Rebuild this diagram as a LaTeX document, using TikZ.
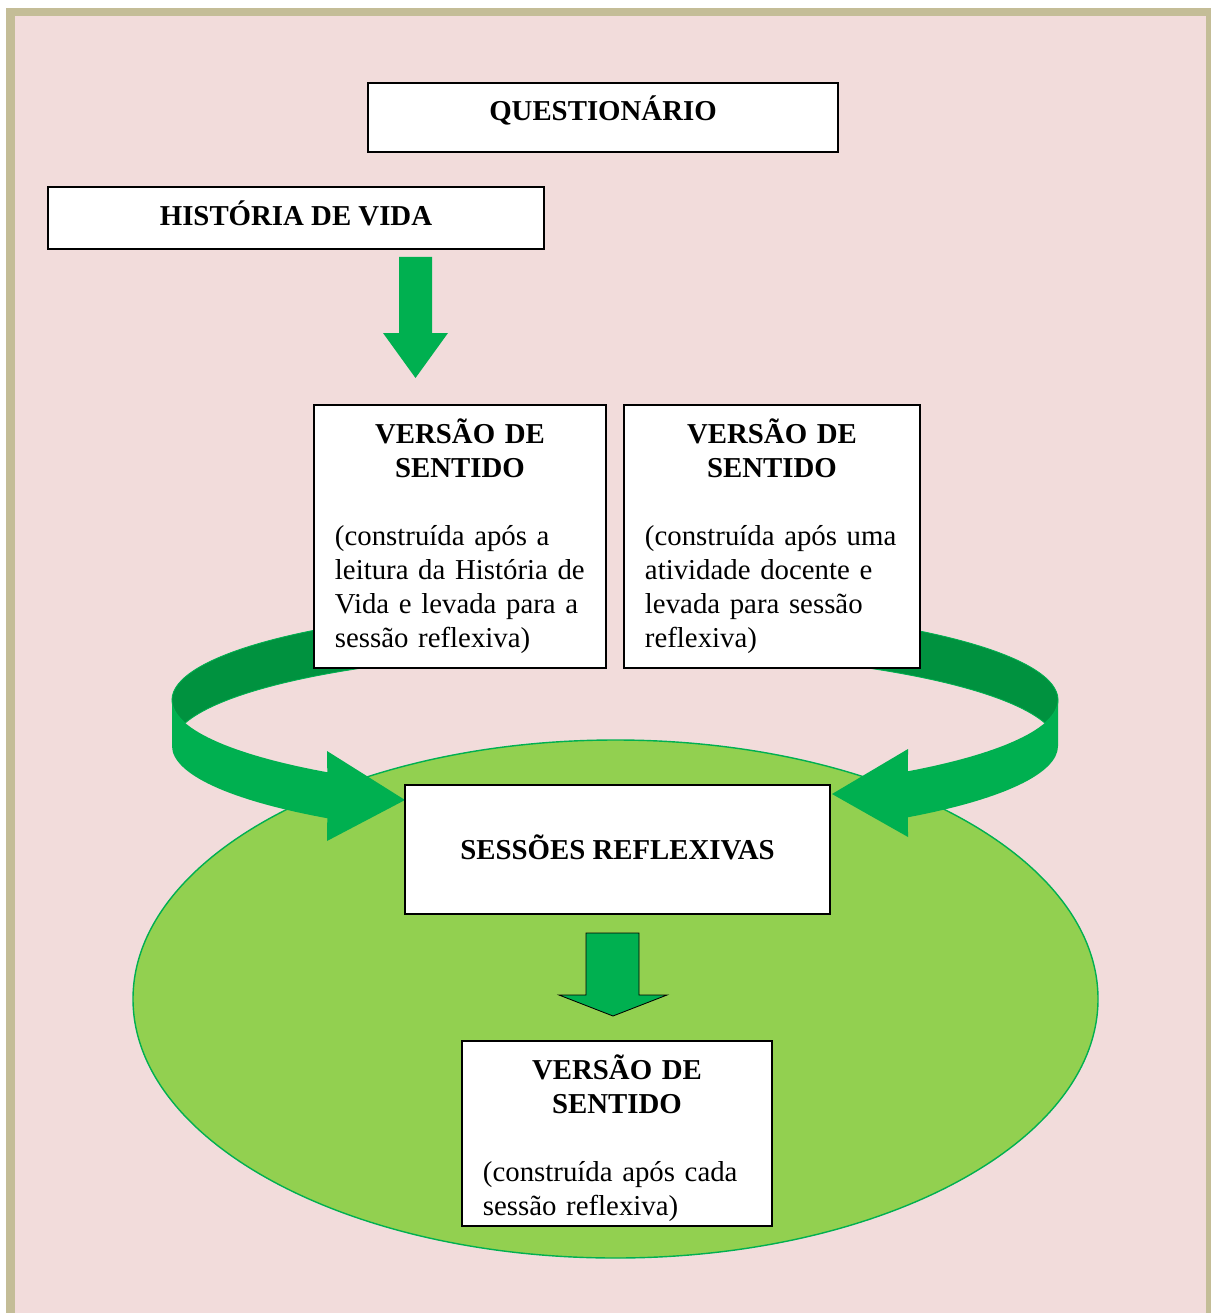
\documentclass[tikz,border=0pt]{standalone}
\usepackage{fontspec}
\setmainfont{Liberation Serif}
\usetikzlibrary{calc}
\definecolor{frame1}{RGB}{196,189,151}
\definecolor{rose1}{RGB}{242,220,219}
\definecolor{green1}{RGB}{0,176,80}
\definecolor{green2}{RGB}{0,146,63}
\definecolor{lime1}{RGB}{146,208,80}
\setlength{\parindent}{0pt}

\begin{document}
\begin{tikzpicture}[x=0.025cm, y=-0.025cm,
    every node/.style={font=\fontsize{20.5}{24.2}\selectfont},
    box/.style={draw=black, fill=white, line width=1.2pt, inner sep=0pt},
    title/.style={box, font=\fontsize{20.5}{24.2}\selectfont\bfseries, text height=0.5cm, text depth=0.15cm},
    version/.style={box, inner xsep=0.525cm, align=left, minimum height=6.575cm},
    blockarrow/.style={fill=green1},
    ringback/.style={fill=green2, draw=green1, line width=0.6pt},
    ringfront/.style={fill=green1},
    ring/.style={x radius=443, y radius=95},
    pool/.style={fill=lime1, draw=green1, line width=1pt}
]
    % \draw [help lines,step=50] (0,0) grid (1210,1313); % grid
    \useasboundingbox (0,0) rectangle (1210,1313);

    \fill[rose1] (10.5,12) rectangle (1210,1330);
    \draw[frame1, line width=0.21cm] (10.5,12) rectangle (1210,1330);

    \draw[pool] (615.5,999) ellipse [x radius=482.5, y radius=259];

    % ribbon, back side
    \filldraw[ringback] ([shift={(615,700)}]241:443 and 95) arc[ring, start angle=241, end angle=166]
        -- ([shift={(615,746)}]194:443 and 95) arc[ring, start angle=194, end angle=241] -- cycle;
    \filldraw[ringback] ([shift={(615,700)}]299:443 and 95) arc[ring, start angle=299, end angle=374]
        -- ([shift={(615,746)}]346:443 and 95) arc[ring, start angle=346, end angle=299] -- cycle;

    % ribbon, front side with heads
    \fill[ringfront] ([shift={(615,700)}]180:443 and 95) arc[ring, start angle=180, end angle=130.5]
        -- (327,751) -- (405,800) -- (327,841)
        -- ([shift={(615,746)}]130.5:443 and 95) arc[ring, start angle=130.5, end angle=180] -- cycle;
    \fill[ringfront] ([shift={(615,700)}]0:443 and 95) arc[ring, start angle=0, end angle=48.6]
        -- (908,749) -- (832,794) -- (908,837)
        -- ([shift={(615,746)}]48.6:443 and 95) arc[ring, start angle=48.6, end angle=0] -- cycle;

    \node[title, minimum width=11.75cm, minimum height=1.725cm, text depth=0.35cm, name=quest] at(603,117.5) {QUESTIONÁRIO};
    \node[title, minimum width=12.4cm, minimum height=1.55cm, name=hist] at(296,218) {HISTÓRIA DE VIDA};

    \node[version, text width=6.25cm, minimum width=7.3cm, name=vsA] at(460,536.5)
        {{\centering\bfseries VERSÃO DE\\SENTIDO\par}\vspace{\baselineskip}(construída após a\\leitura da História de\\Vida e levada para a\\sessão reflexiva)};
    \node[version, text width=6.35cm, minimum width=7.4cm, name=vsB] at(772,536.5)
        {{\centering\bfseries VERSÃO DE\\SENTIDO\par}\vspace{\baselineskip}(construída após uma\\atividade docente e\\levada para sessão\\reflexiva)};

    \node[title, minimum width=10.625cm, minimum height=3.225cm, text depth=0.02cm, name=sess] at(617.5,849.5) {SESSÕES REFLEXIVAS};

    \node[version, text width=6.7cm, minimum width=7.75cm, minimum height=4.625cm, name=vsC] at(617,1133.5)
        {{\centering\bfseries\rule{0pt}{0.87cm}VERSÃO DE\\SENTIDO\par}\vspace{\baselineskip}(construída após cada\\sessão reflexiva)};

    \fill[blockarrow] (399,257) -- (432,257) -- (432,333) -- (448,333) -- (415.5,378) -- (383,333) -- (399,333) -- cycle;
    \filldraw[blockarrow, draw=black, line width=0.6pt] (586,933) -- (639,933) -- (639,995) -- (667,995) -- (613,1016) -- (559,995) -- (586,995) -- cycle;
\end{tikzpicture}
\end{document}
